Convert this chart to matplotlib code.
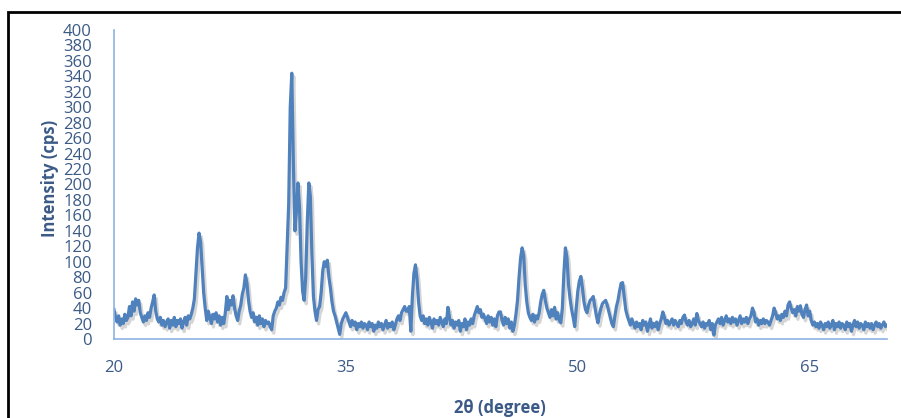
import matplotlib
matplotlib.use("Agg")
import matplotlib.pyplot as plt
import matplotlib.patheffects as pe
from matplotlib.patches import Rectangle
import numpy as np

# 2-theta from 20.0 to 70.0 in 0.1 degree steps
two_theta_start = 20.0
two_theta_step = 0.1
intensity = [
    # 20
    38, 28, 22, 30, 18, 26, 20, 32, 24, 28,
    # 21
    42, 30, 48, 36, 52, 44, 50, 34, 28, 22,
    # 22
    30, 24, 34, 28, 40, 48, 57, 36, 26, 22,
    # 23
    28, 18, 24, 16, 22, 26, 14, 24, 18, 28,
    # 24
    16, 24, 20, 26, 14, 22, 28, 18, 30, 26,
    # 25
    32, 40, 52, 85, 118, 137, 126, 94, 60, 40,
    # 26
    24, 36, 28, 20, 32, 26, 34, 22, 30, 18,
    # 27
    28, 20, 34, 55, 38, 50, 44, 56, 40, 30,
    # 28
    24, 36, 44, 58, 66, 83, 72, 50, 36, 28,
    # 29
    34, 22, 28, 18, 30, 20, 26, 16, 24, 20,
    # 30
    22, 16, 12, 30, 36, 40, 48, 44, 54, 50,
    # 31
    60, 66, 120, 175, 300, 344, 230, 140, 165, 202,
    # 32
    170, 100, 62, 50, 80, 150, 202, 185, 110, 55,
    # 33
    36, 24, 38, 42, 60, 88, 100, 94, 102, 80,
    # 34
    66, 48, 36, 30, 22, 14, 6, 20, 26, 30,
    # 35
    34, 28, 22, 16, 24, 18, 22, 12, 20, 16,
    # 36
    22, 14, 20, 18, 12, 22, 16, 20, 10, 18,
    # 37
    14, 22, 16, 20, 12, 18, 24, 14, 20, 16,
    # 38
    22, 12, 18, 26, 30, 24, 34, 38, 42, 36,
    # 39
    36, 42, 10, 55, 85, 96, 78, 48, 30, 24,
    # 40
    30, 20, 26, 18, 28, 22, 14, 26, 20, 24,
    # 41
    18, 28, 22, 16, 26, 20, 41, 28, 18, 24,
    # 42
    14, 22, 18, 24, 10, 20, 16, 26, 12, 22,
    # 43
    18, 26, 20, 30, 36, 42, 34, 38, 28, 32,
    # 44
    26, 20, 30, 22, 28, 18, 26, 16, 30, 35,
    # 45
    35, 24, 18, 28, 20, 26, 14, 22, 10, 18,
    # 46
    32, 50, 80, 105, 118, 108, 70, 48, 34, 28,
    # 47
    24, 32, 22, 30, 26, 34, 48, 58, 63, 50,
    # 48
    40, 34, 28, 38, 30, 41, 26, 34, 24, 21,
    # 49
    40, 85, 118, 105, 70, 52, 38, 28, 16, 40,
    # 50
    62, 75, 81, 66, 48, 38, 34, 44, 50, 52,
    # 51
    55, 42, 30, 21, 32, 40, 46, 48, 50, 44,
    # 52
    36, 28, 20, 16, 30, 42, 50, 62, 72, 73,
    # 53
    55, 38, 30, 24, 18, 26, 20, 14, 22, 16,
    # 54
    20, 12, 24, 18, 22, 10, 18, 26, 14, 20,
    # 55
    16, 22, 12, 20, 26, 35, 28, 20, 24, 18,
    # 56
    22, 26, 18, 24, 20, 16, 24, 20, 28, 31,
    # 57
    22, 18, 24, 16, 20, 26, 18, 33, 24, 20,
    # 58
    16, 22, 14, 20, 18, 24, 12, 20, 5, 18,
    # 59
    22, 26, 20, 28, 18, 24, 30, 22, 26, 20,
    # 60
    28, 22, 26, 18, 24, 30, 20, 26, 22, 28,
    # 61
    20, 26, 30, 40, 34, 22, 26, 18, 24, 20,
    # 62
    26, 20, 24, 22, 18, 24, 30, 40, 34, 26,
    # 63
    30, 24, 32, 28, 36, 30, 44, 48, 40, 34,
    # 64
    38, 30, 42, 36, 43, 32, 28, 38, 44, 30,
    # 65
    36, 24, 18, 22, 16, 20, 14, 22, 18, 12,
    # 66
    20, 16, 22, 14, 18, 24, 12, 20, 16, 22,
    # 67
    14, 20, 18, 12, 22, 16, 20, 10, 18, 24,
    # 68
    16, 22, 14, 20, 18, 12, 22, 16, 20, 14,
    # 69
    20, 12, 18, 22, 16, 20, 14, 18, 22, 16,
    # 70
    18,
]
x_ticks = [20, 35, 50, 65]
y_ticks = list(range(0, 401, 20))

two_theta = two_theta_start + two_theta_step * np.arange(len(intensity))

W, H = 901, 418
fig = plt.figure(figsize=(W / 100, H / 100), dpi=100)
fig.patch.set_facecolor("white")

left, right = 114 / W, 887 / W
bottom, top = 1 - 339 / H, 1 - 30 / H
ax = fig.add_axes([left, bottom, right - left, top - bottom])

label_color = "#3B5A86"
spine_color = "#8DB3E2"
font = "Open Sans"

ax.plot(two_theta, intensity, color="#4F81BD", lw=2.3,
        path_effects=[pe.SimpleLineShadow(offset=(1.5, -2.5), shadow_color="#777777", alpha=0.3),
                      pe.Normal()])

ax.set_xlim(20, 70)
ax.set_ylim(0, 400)
ax.set_xticks(x_ticks)
ax.set_yticks(y_ticks)
ax.tick_params(length=0, colors=label_color)
ax.tick_params(axis="x", pad=15, labelsize=12)
ax.tick_params(axis="y", pad=16, labelsize=12)
for lab in ax.get_xticklabels() + ax.get_yticklabels():
    lab.set_fontfamily(font)
    lab.set_color(label_color)
for s in ["top", "right"]:
    ax.spines[s].set_visible(False)
for s in ["left", "bottom"]:
    ax.spines[s].set_color(spine_color)
    ax.spines[s].set_linewidth(1.2)

fig.text(50 / W, 1 - 178 / H, "Intensity (cps)", rotation=90, ha="center", va="center",
         fontsize=12, fontweight="bold", color=label_color, family=font)
fig.text(500 / W, 1 - 408 / H, "2θ (degree)", ha="center", va="center",
         fontsize=12, fontweight="bold", color=label_color, family=font)

# outer frame
fig.patches.append(Rectangle((8 / W, -0.2), 1.0, (1 - 12 / H) + 0.2, transform=fig.transFigure,
                             fill=False, edgecolor="black", lw=2))

fig.savefig("out.png", dpi=100)
